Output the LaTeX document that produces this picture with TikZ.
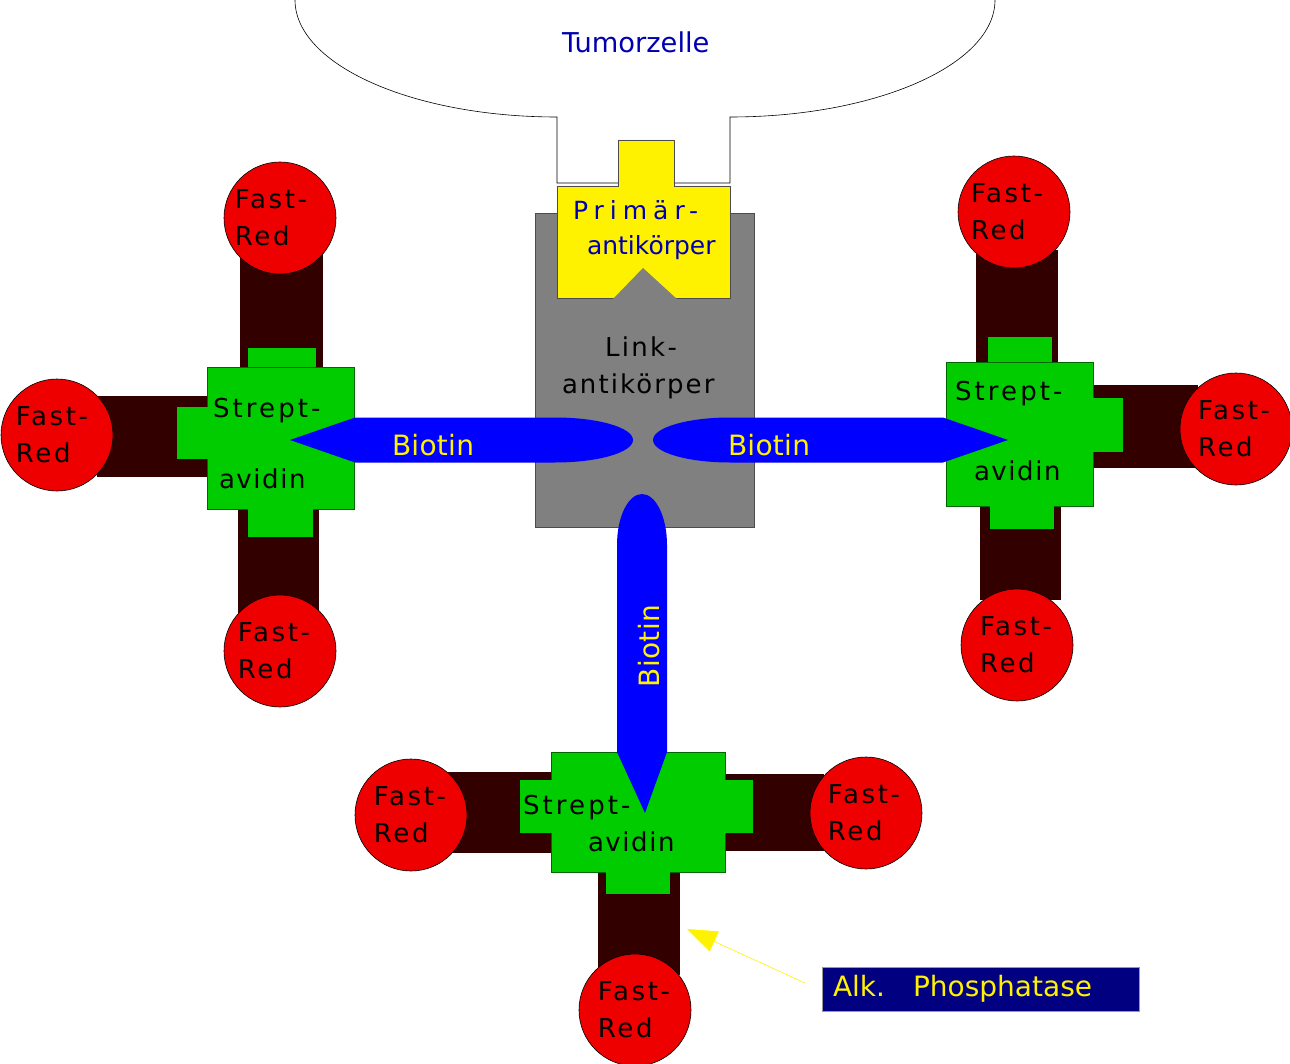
\documentclass[tikz,border=0pt]{standalone}
\usepackage{fontspec}
\setmainfont{DejaVu Sans}
\usetikzlibrary{arrows.meta}

\begin{document}
\begin{tikzpicture}[x=1pt, y=-1pt,
    %Option for the shapes
    inner sep=0pt, outer sep=0pt,%
    cell/.style={draw=black, line width=0.6pt},
    link_ab/.style={fill=linkgrey, draw=black!70, line width=0.6pt},
    prim_ab/.style={fill=yellow, draw=black!70, line width=0.6pt},
    arm/.style={fill=armbrown},
    core/.style={fill=streptgreen, draw=streptgreen!50!black, line width=0.5pt},
    knob/.style={fill=streptgreen},
    biotin/.style={fill=biotinblue},
    fast_red/.style={circle, minimum size=112pt, fill=fastred, draw=black, line width=0.6pt},
    fr_text/.style={align=left, font=\fontsize{26}{37}\selectfont\addfontfeature{LetterSpace=10}},
    label_txt/.style={anchor=base west, font=\fontsize{26}{30}\selectfont\addfontfeature{LetterSpace=#1}},
    biotin_txt/.style={anchor=base west, text=yellow, font=\fontsize{28}{30}\selectfont\addfontfeature{LetterSpace=1}},
    pointer/.style={draw=yellow, line width=0.6pt, -{Triangle[length=30pt, width=22pt]}},
]
    % Colors
    \definecolor{fastred}{RGB}{238,0,0}
    \definecolor{armbrown}{RGB}{51,0,0}
    \definecolor{streptgreen}{RGB}{0,204,0}
    \definecolor{linkgrey}{RGB}{128,128,128}
    \definecolor{biotinblue}{RGB}{0,0,255}
    \definecolor{txtblue}{RGB}{0,0,176}
    \definecolor{navy}{RGB}{0,0,128}

    \useasboundingbox (0,0) rectangle (1290,1064);

    % Tumour cell with its antigen socket
    \draw[cell] (295,0) arc[start angle=180, end angle=90, x radius=262, y radius=117]
        -- (557,183) -- (730,183) -- (730,117)
        arc[start angle=90, end angle=0, x radius=265, y radius=117];
    \node[label_txt=0, text=txtblue, font=\fontsize{27.3}{30}\selectfont] (tumor) at (562,53) {Tumorzelle};

    % Link antibody and primary antibody
    \filldraw[link_ab] (535,213) rectangle (754,527);
    \filldraw[prim_ab] (557,186) -- (618,186) -- (618,140) -- (674,140) -- (674,186)
        -- (730,186) -- (730,298) -- (557,298) -- cycle;
    \fill[linkgrey] (612,300) -- (643,268) -- (678,300) -- cycle;

    \node[label_txt=0, text=txtblue, font=\fontsize{25}{30}\selectfont\addfontfeature{LetterSpace=24}] (prim_a) at (573,220) {Primär-};
    \node[label_txt=0, text=txtblue, font=\fontsize{25}{30}\selectfont] (prim_b) at (587,255) {antikörper};
    \node[label_txt=9] (link_a) at (605,357) {Link-};
    \node[label_txt=8] (link_b) at (562,393) {antikörper};

    % Phosphatase arms
    \foreach \a/\b in {{(240,245)}/{(323,368)}, {(97,396)}/{(207,477)}, {(238,509)}/{(319,615)},
                       {(976,250)}/{(1058,362)}, {(1093,385)}/{(1198,468)}, {(980,506)}/{(1061,600)},
                       {(446,772)}/{(551,853)}, {(724,774)}/{(824,851)}, {(598,871)}/{(680,975)}}
        \fill[arm] \a rectangle \b;

    % Streptavidin crosses
    \filldraw[core] (207,367) rectangle (354,509);
    \filldraw[core] (946,362) rectangle (1093,506);
    \filldraw[core] (551,752) rectangle (725,872);
    \foreach \a/\b in {{(248,348)}/{(316,367.5)}, {(177,407)}/{(207.5,459)}, {(248,508.5)}/{(313,537)},
                       {(988,337)}/{(1052,362.5)}, {(1092.5,398)}/{(1123,452)}, {(990,505.5)}/{(1054,529)},
                       {(520,780)}/{(551.5,833)}, {(724.5,780)}/{(753,833)}, {(606,871.5)}/{(670,894)}}
        \fill[knob] \a rectangle \b;

    % Fast-Red
    \foreach \name/\pos/\dx in {fr_la/{(280,218)}/-9, fr_lb/{(57,435)}/-5, fr_lc/{(280,651)}/-6,
                                fr_ra/{(1014,212)}/-7, fr_rb/{(1236,429)}/-2, fr_rc/{(1017,645)}/-1,
                                fr_ba/{(411,815)}/-1, fr_bb/{(866,813)}/-2, fr_bc/{(635,1010)}/-1}{
        \node[fast_red] (\name) at \pos {};
        \node[fr_text, xshift=\dx pt] (\name_t) at (\name) {Fast-\\Red};
    }

    % Biotin
    \fill[biotin] (290,440) -- (355,417.5) -- (555,417.5)
        arc[start angle=270, end angle=450, x radius=78, y radius=22.5] -- (355,462.5) -- cycle;
    \fill[biotin] (1008,440) -- (943,417.5) -- (730,417.5)
        arc[start angle=270, end angle=90, x radius=77, y radius=22.5] -- (943,462.5) -- cycle;
    \fill[biotin] (617,545) arc[start angle=180, end angle=360, x radius=25, y radius=51]
        -- (667,752) -- (645,813) -- (617,752) -- cycle;

    \node[biotin_txt] (bio_l) at (392,455) {Biotin};
    \node[biotin_txt] (bio_r) at (728,455) {Biotin};
    \node[biotin_txt, rotate=90] (bio_d) at (659,687) {Biotin};

    % Streptavidin labels
    \node[label_txt=12] (st_la) at (213,417) {Strept-};
    \node[label_txt=6] (st_lb) at (219,488) {avidin};
    \node[label_txt=12] (st_ra) at (955,400) {Strept-};
    \node[label_txt=6] (st_rb) at (974,480) {avidin};
    \node[label_txt=12] (st_ba) at (523,814) {Strept-};
    \node[label_txt=6] (st_bb) at (588,851) {avidin};

    % Alkaline phosphatase label
    \node[fill=navy, draw=black!40, line width=0.5pt, anchor=west, inner xsep=11pt,
          text width=295pt, minimum height=44pt, align=left, text=yellow,
          font=\fontsize{28}{30}\selectfont] (alk) at (822,989) {Alk.\hspace{28pt}Phosphatase};
    \coordinate (ap_tip) at (687,929);
    \draw[pointer] ([xshift=-17pt, yshift=6pt]alk.west) -- (ap_tip);
\end{tikzpicture}
\end{document}
